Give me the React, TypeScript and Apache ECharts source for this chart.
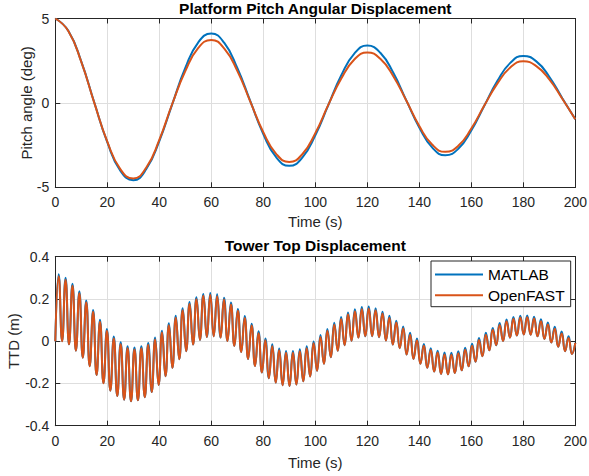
import React, { useEffect, useRef } from "react";
import * as echarts from "echarts";

// ---------- Data ----------
// Top plot: platform pitch (deg), sampled every 5 s
const pitchTime = [0, 5, 10, 15, 20, 25, 30, 35, 40, 45, 50, 55, 60, 65, 70, 75, 80, 85, 90, 95, 100, 105, 110, 115, 120, 125, 130, 135, 140, 145, 150, 155, 160, 165, 170, 175, 180, 185, 190, 195, 200];
const pitchMatlab = [5.0, 4.27, 2.45, 0.02, -2.33, -4.01, -4.58, -3.92, -2.26, -0.07, 2.07, 3.59, 4.11, 3.55, 2.07, 0.1, -1.84, -3.23, -3.73, -3.24, -1.92, -0.13, 1.64, 2.92, 3.4, 2.97, 1.78, 0.15, -1.46, -2.65, -3.1, -2.72, -1.64, -0.17, 1.29, 2.37, 2.78, 2.46, 1.55, 0.28, -0.97];
const pitchOpenFAST = [5.0, 4.26, 2.43, 0.0, -2.29, -3.92, -4.48, -3.83, -2.19, -0.05, 1.88, 3.26, 3.73, 3.22, 1.9, 0.08, -1.73, -3.03, -3.5, -3.04, -1.79, -0.12, 1.44, 2.57, 2.99, 2.61, 1.58, 0.14, -1.37, -2.48, -2.9, -2.54, -1.52, -0.16, 1.14, 2.1, 2.47, 2.18, 1.4, 0.25, -0.97];

// Bottom plot: tower-top displacement (m), one peak and one trough per tower cycle
const ttdFirstPeakTime = 1.3; // s
const ttdPeriod = 2.65; // s, read from peak spacing
const ttdStartValue = 0.0;
const ttdEndTime = 200;
const ttdEndValue = -0.008;
const ttdPeaksMatlab = [
  0.317, 0.3, 0.272, 0.236, 0.193, 0.148, 0.101, 0.058, 0.022, -0.005,
  -0.024, -0.03, -0.024, -0.008, 0.017, 0.05, 0.085, 0.12, 0.156, 0.185,
  0.208, 0.224, 0.228, 0.222, 0.206, 0.183, 0.153, 0.119, 0.083, 0.047,
  0.013, -0.015, -0.034, -0.046, -0.046, -0.038, -0.024, -0.001, 0.029, 0.058,
  0.087, 0.114, 0.136, 0.151, 0.162, 0.164, 0.156, 0.14, 0.12, 0.097,
  0.07, 0.04, 0.013, -0.013, -0.033, -0.045, -0.054, -0.055, -0.048, -0.031,
  -0.012, 0.015, 0.04, 0.063, 0.086, 0.103, 0.115, 0.121, 0.122, 0.116,
  0.104, 0.088, 0.068, 0.046, 0.024,
];
const ttdPeaksOpenFAST = [
  0.308, 0.291, 0.263, 0.227, 0.184, 0.139, 0.092, 0.049, 0.013, -0.014,
  -0.033, -0.039, -0.033, -0.017, 0.008, 0.041, 0.076, 0.111, 0.147, 0.176,
  0.199, 0.215, 0.219, 0.213, 0.197, 0.174, 0.144, 0.11, 0.074, 0.038,
  0.004, -0.024, -0.043, -0.055, -0.055, -0.047, -0.033, -0.01, 0.02, 0.049,
  0.078, 0.105, 0.127, 0.142, 0.153, 0.155, 0.147, 0.131, 0.111, 0.088,
  0.061, 0.031, 0.004, -0.022, -0.042, -0.054, -0.063, -0.064, -0.057, -0.04,
  -0.021, 0.006, 0.031, 0.054, 0.077, 0.094, 0.106, 0.112, 0.113, 0.107,
  0.095, 0.079, 0.059, 0.037, 0.015,
];
// troughs coincide for both models in the picture
const ttdTroughs = [
  0.0, -0.015, -0.045, -0.078, -0.118, -0.16, -0.199, -0.234, -0.259, -0.277,
  -0.284, -0.28, -0.265, -0.241, -0.207, -0.166, -0.126, -0.085, -0.047, -0.016,
  0.006, 0.02, 0.023, 0.017, 0.001, -0.022, -0.051, -0.084, -0.117, -0.148,
  -0.175, -0.196, -0.208, -0.212, -0.205, -0.19, -0.167, -0.14, -0.107, -0.076,
  -0.045, -0.019, 0.002, 0.017, 0.023, 0.024, 0.019, 0.003, -0.016, -0.033,
  -0.063, -0.084, -0.107, -0.126, -0.144, -0.155, -0.157, -0.151, -0.138, -0.119,
  -0.097, -0.071, -0.043, -0.019, 0.001, 0.017, 0.027, 0.032, 0.031, 0.023,
  0.011, -0.006, -0.026, -0.047, -0.06,
];

const xTicks = { min: 0, max: 200, interval: 20 };
const pitchTicks = { min: -5, max: 5, interval: 5 };
const ttdTicks = { min: -0.4, max: 0.4, interval: 0.2 };

const seriesNames = ["MATLAB", "OpenFAST"];
const titles = ["Platform Pitch Angular Displacement", "Tower Top Displacement"];

// ---------- Styling ----------
const FONT = '"Liberation Sans", Arial, Helvetica, sans-serif';
const AX = "#262626";
const GRID = "#dedede";
const BLUE = "#0072BD";
const ORANGE = "#D95319";

function buildTTD(peaks: number[], troughs: number[]) {
  const pts: number[][] = [[0, ttdStartValue]];
  for (let k = 0; k < peaks.length; k++) {
    pts.push([ttdFirstPeakTime + k * ttdPeriod, peaks[k]]);
    pts.push([ttdFirstPeakTime + ttdPeriod / 2 + k * ttdPeriod, troughs[k]]);
  }
  pts.push([ttdEndTime, ttdEndValue]);
  return pts;
}

function xAxes(gridIndex: number, nameGap: number) {
  return [
    {
      gridIndex,
      type: "value",
      ...xTicks,
      position: "bottom",
      name: "Time (s)",
      nameLocation: "middle",
      nameGap,
      nameMoveOverlap: false,
      nameTextStyle: { color: AX, fontSize: 15, fontFamily: FONT },
      axisLine: { show: true, onZero: false, lineStyle: { color: AX, width: 1 } },
      axisTick: { show: true, inside: true, length: 5, lineStyle: { color: AX } },
      axisLabel: { show: true, color: AX, fontSize: 14, fontFamily: FONT, margin: 8, showMinLabel: true, showMaxLabel: true },
      splitLine: { show: true, lineStyle: { color: GRID, width: 1 } },
    },
    {
      gridIndex,
      type: "value",
      ...xTicks,
      position: "top",
      axisLine: { show: true, onZero: false, lineStyle: { color: AX, width: 1 } },
      axisTick: { show: true, inside: true, length: 5, lineStyle: { color: AX } },
      axisLabel: { show: false },
      splitLine: { show: false },
    },
  ];
}

function yAxes(gridIndex: number, ticks: any, name: string, nameGap: number) {
  return [
    {
      gridIndex,
      type: "value",
      ...ticks,
      position: "left",
      name,
      nameLocation: "middle",
      nameGap,
      nameMoveOverlap: false,
      nameTextStyle: { color: AX, fontSize: 15, fontFamily: FONT },
      axisLine: { show: true, onZero: false, lineStyle: { color: AX, width: 1 } },
      axisTick: { show: true, inside: true, length: 5, lineStyle: { color: AX } },
      axisLabel: { show: true, color: AX, fontSize: 14, fontFamily: FONT, margin: 6, showMinLabel: true, showMaxLabel: true },
      splitLine: { show: true, lineStyle: { color: GRID, width: 1 } },
    },
    {
      gridIndex,
      type: "value",
      ...ticks,
      position: "right",
      axisLine: { show: true, onZero: false, lineStyle: { color: AX, width: 1 } },
      axisTick: { show: true, inside: true, length: 5, lineStyle: { color: AX } },
      axisLabel: { show: false },
      splitLine: { show: false },
    },
  ];
}

export default function App() {
  const ref = useRef<HTMLDivElement>(null);

  useEffect(() => {
    if (!ref.current) return;
    const chart = echarts.init(ref.current, null, { renderer: "svg" });
    const lineBase = { type: "line", symbol: "none", smooth: true, animation: false };
    const option: any = {
      animation: false,
      backgroundColor: "#ffffff",
      textStyle: { fontFamily: FONT },
      grid: [
        { left: 55.3, top: 18.5, width: 520, height: 168.8, containLabel: false, outerBoundsMode: "none" },
        { left: 55.3, top: 256.7, width: 520, height: 169, containLabel: false, outerBoundsMode: "none" },
      ],
      xAxis: [...xAxes(0, 27), ...xAxes(1, 29)],
      yAxis: [...yAxes(0, pitchTicks, "Pitch angle (deg)", 21), ...yAxes(1, ttdTicks, "TTD (m)", 34)],
      legend: {
        data: seriesNames,
        orient: "vertical",
        left: 431,
        top: 261,
        padding: [5, 6, 3, 4],
        itemGap: 3.7,
        itemWidth: 48,
        itemHeight: 2,
        icon: "rect",
        backgroundColor: "#ffffff",
        borderColor: AX,
        borderWidth: 1,
        borderRadius: 0,
        textStyle: { color: "#000", fontSize: 15.5, fontFamily: FONT, lineHeight: 17 },
      },
      graphic: [
        {
          type: "text",
          x: 315.3,
          y: 8.5,
          style: { text: titles[0], fill: "#000", fontSize: 15.5, fontWeight: "bold", fontFamily: FONT, align: "center", verticalAlign: "middle" },
        },
        {
          type: "text",
          x: 315.3,
          y: 245.5,
          style: { text: titles[1], fill: "#000", fontSize: 15.5, fontWeight: "bold", fontFamily: FONT, align: "center", verticalAlign: "middle" },
        },
      ],
      series: [
        {
          ...lineBase,
          name: seriesNames[0],
          xAxisIndex: 0,
          yAxisIndex: 0,
          color: BLUE,
          lineStyle: { width: 2, color: BLUE },
          data: pitchTime.map((t, i) => [t, pitchMatlab[i]]),
        },
        {
          ...lineBase,
          name: seriesNames[1],
          xAxisIndex: 0,
          yAxisIndex: 0,
          color: ORANGE,
          lineStyle: { width: 2, color: ORANGE },
          data: pitchTime.map((t, i) => [t, pitchOpenFAST[i]]),
        },
        {
          ...lineBase,
          name: seriesNames[0],
          xAxisIndex: 2,
          yAxisIndex: 2,
          color: BLUE,
          lineStyle: { width: 2, color: BLUE },
          data: buildTTD(ttdPeaksMatlab, ttdTroughs),
        },
        {
          ...lineBase,
          name: seriesNames[1],
          xAxisIndex: 2,
          yAxisIndex: 2,
          color: ORANGE,
          lineStyle: { width: 2, color: ORANGE },
          data: buildTTD(ttdPeaksOpenFAST, ttdTroughs),
        },
      ],
    };
    chart.setOption(option);
    return () => chart.dispose();
  }, []);

  return (
    <div
      ref={ref}
      style={{ position: "fixed", left: 0, top: 0, width: 589, height: 476, background: "#fff" }}
    />
  );
}
